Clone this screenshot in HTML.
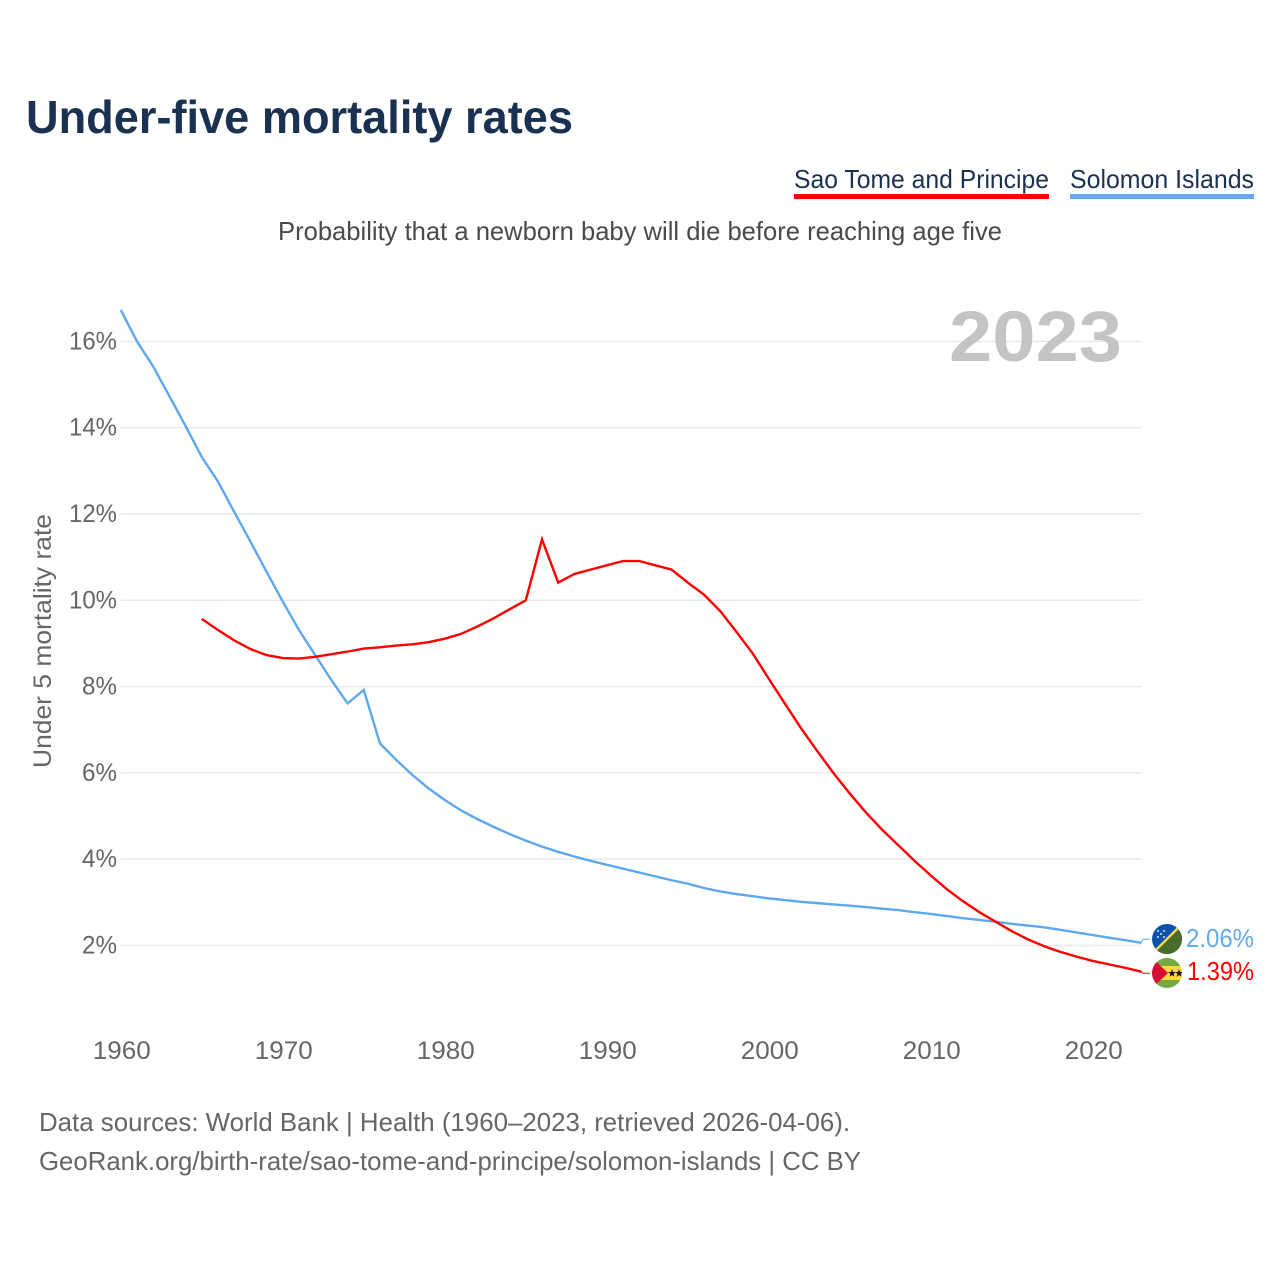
<!DOCTYPE html>
<html lang="en">
<head>
<meta charset="utf-8">
<title>Under-five mortality rates</title>
<style>
html,body{margin:0;padding:0;background:#fff;}
svg{display:block;}
text{font-family:"Liberation Sans",sans-serif;}
</style>
</head>
<body>
<svg id="chart" xmlns="http://www.w3.org/2000/svg" width="1280" height="1280" viewBox="0 0 1280 1280">
  <rect width="1280" height="1280" fill="#fff"/>
  <text x="26" y="133" font-size="46" font-weight="700" fill="#1a3152" textLength="547" lengthAdjust="spacingAndGlyphs">Under-five mortality rates</text>

  <g>
    <text x="794" y="188" font-size="26" fill="#1a3152" textLength="255" lengthAdjust="spacingAndGlyphs">Sao Tome and Principe</text>
    <rect x="794" y="194" width="255" height="5" fill="#ff0000"/>
  </g>
  <g>
    <text x="1070" y="188" font-size="26" fill="#1a3152" textLength="184" lengthAdjust="spacingAndGlyphs">Solomon Islands</text>
    <rect x="1070" y="194" width="184" height="5" fill="#62a9ed"/>
  </g>

  <text x="278" y="240" font-size="26" fill="#4a4a4a" textLength="724" lengthAdjust="spacingAndGlyphs">Probability that a newborn baby will die before reaching age five</text>
  <text transform="translate(51 768) rotate(-90)" font-size="25" fill="#666" textLength="254" lengthAdjust="spacingAndGlyphs">Under 5 mortality rate</text>

  <g id="grid"></g>
  <g id="yticks"></g>
  <g id="xticks"></g>

  <text x="949" y="361" font-size="71" font-weight="700" fill="#c4c4c4" textLength="173" lengthAdjust="spacingAndGlyphs">2023</text>

  <g id="series"></g>

  <defs>
    <clipPath id="clip-flag-a"><circle cx="1167" cy="939" r="15"/></clipPath>
    <clipPath id="clip-flag-b"><circle cx="1167" cy="973" r="15"/></clipPath>
  </defs>
  <g clip-path="url(#clip-flag-a)">
    <rect x="1150" y="922" width="34" height="34" fill="#0b51ad"/>
    <polygon points="1184,922 1184,956 1150,956" fill="#4a6b2a"/>
    <line x1="1152" y1="954" x2="1182" y2="924" stroke="#ecd94a" stroke-width="2.4"/>
    <g fill="#d8e4f4">
      <circle cx="1158" cy="931" r="1"/><circle cx="1164" cy="931" r="1"/><circle cx="1161" cy="934" r="1"/><circle cx="1158" cy="937" r="1"/><circle cx="1164" cy="937" r="1"/>
    </g>
  </g>
  <g clip-path="url(#clip-flag-b)">
    <rect x="1150" y="956" width="34" height="34" fill="#74a840"/>
    <rect x="1150" y="966" width="34" height="14" fill="#fcd83a"/>
    <polygon points="1150,956 1168,973 1150,990" fill="#d80c36"/>
    <polygon points="1172,969 1173,972 1176,972 1173.6,973.8 1174.5,976.8 1172,975 1169.5,976.8 1170.4,973.8 1168,972 1171,972" fill="#111"/>
    <polygon points="1179,969 1180,972 1183,972 1180.6,973.8 1181.5,976.8 1179,975 1176.5,976.8 1177.4,973.8 1175,972 1178,972" fill="#111"/>
  </g>

  <text x="1186" y="947" font-size="26" fill="#62a9ed" textLength="68" lengthAdjust="spacingAndGlyphs">2.06%</text>
  <text x="1187" y="980" font-size="26" fill="#ff0000" textLength="67" lengthAdjust="spacingAndGlyphs">1.39%</text>

  <text x="39" y="1131" font-size="26" fill="#666" textLength="811" lengthAdjust="spacingAndGlyphs">Data sources: World Bank | Health (1960–2023, retrieved 2026-04-06).</text>
  <text x="39" y="1170" font-size="26" fill="#666" textLength="822" lengthAdjust="spacingAndGlyphs">GeoRank.org/birth-rate/sao-tome-and-principe/solomon-islands | CC BY</text>
</svg>
<script>
const solomonStart = 1960;
const solomonValues = [16.73,16.0,15.42,14.73,14.04,13.32,12.75,12.05,11.36,10.66,9.97,9.31,8.73,8.15,7.61,7.92,6.68,6.30,5.95,5.64,5.37,5.13,4.93,4.75,4.58,4.43,4.29,4.17,4.06,3.96,3.87,3.78,3.69,3.60,3.51,3.43,3.33,3.25,3.19,3.14,3.09,3.05,3.01,2.98,2.95,2.92,2.89,2.85,2.82,2.77,2.73,2.68,2.63,2.59,2.55,2.50,2.46,2.42,2.36,2.30,2.24,2.18,2.12,2.06];
const saoTomeStart = 1965;
const saoTomeValues = [9.57,9.31,9.07,8.87,8.73,8.66,8.65,8.69,8.75,8.81,8.88,8.91,8.95,8.98,9.03,9.11,9.22,9.39,9.58,9.79,10.0,11.41,10.41,10.61,10.71,10.81,10.91,10.91,10.81,10.71,10.41,10.13,9.75,9.27,8.77,8.18,7.60,7.03,6.50,5.99,5.52,5.08,4.68,4.32,3.96,3.62,3.30,3.02,2.77,2.55,2.33,2.14,1.98,1.85,1.74,1.64,1.56,1.48,1.39];
const yTicks = [2,4,6,8,10,12,14,16];
const xTicks = [1960,1970,1980,1990,2000,2010,2020];

const NS = 'http://www.w3.org/2000/svg';
function xScale(year){ return 120.8 + (year - 1960) * 16.2; }
function yScale(value){ return 945.4 - (value - 2) * 43.14; }

const grid = document.getElementById('grid');
const yGroup = document.getElementById('yticks');
const xGroup = document.getElementById('xticks');
const seriesGroup = document.getElementById('series');

yTicks.forEach(function(t){
  const line = document.createElementNS(NS, 'line');
  
  
  line.setAttribute('x1', xScale(1960));
  line.setAttribute('x2', xScale(2023));
  line.setAttribute('y1', yScale(t));
  line.setAttribute('y2', yScale(t));
  line.setAttribute('stroke', '#e8e8e8');
  line.setAttribute('stroke-width', '1.4');
  grid.appendChild(line);

  const label = document.createElementNS(NS, 'text');
  
  
  label.setAttribute('x', 117);
  label.setAttribute('y', yScale(t) + 8);
  label.setAttribute('text-anchor', 'end');
  label.setAttribute('font-size', '25');
  label.setAttribute('fill', '#666');
  label.setAttribute('textLength', t >= 10 ? 48 : 35);
  label.setAttribute('lengthAdjust', 'spacingAndGlyphs');
  label.textContent = t + '%';
  yGroup.appendChild(label);
});

xTicks.forEach(function(t){
  const label = document.createElementNS(NS, 'text');
  
  
  label.setAttribute('x', xScale(t) + 1);
  label.setAttribute('y', 1059);
  label.setAttribute('text-anchor', 'middle');
  label.setAttribute('font-size', '25');
  label.setAttribute('fill', '#666');
  label.setAttribute('textLength', 58);
  label.setAttribute('lengthAdjust', 'spacingAndGlyphs');
  label.textContent = t;
  xGroup.appendChild(label);
});

function pointsFor(start, values){
  return values.map(function(v, i){
    return xScale(start + i).toFixed(2) + ',' + yScale(v).toFixed(2);
  });
}

const bluePts = pointsFor(solomonStart, solomonValues);
const blueLine = document.createElementNS(NS, 'polyline');


blueLine.setAttribute('points', bluePts.join(' '));
blueLine.setAttribute('fill', 'none');
blueLine.setAttribute('stroke', '#5ea8ee');
blueLine.setAttribute('stroke-width', '2.4');
seriesGroup.appendChild(blueLine);

const redPts = pointsFor(saoTomeStart, saoTomeValues);
const redLine = document.createElementNS(NS, 'polyline');


redLine.setAttribute('points', redPts.join(' '));
redLine.setAttribute('fill', 'none');
redLine.setAttribute('stroke', '#ff0000');
redLine.setAttribute('stroke-width', '2.4');
seriesGroup.appendChild(redLine);

const blueEnd = yScale(solomonValues[solomonValues.length - 1]);
const blueLeader = document.createElementNS(NS, 'polyline');


blueLeader.setAttribute('points', '1141.4,' + blueEnd + ' 1143,' + (blueEnd - 3.5) + ' 1150,' + (blueEnd - 3.5));
blueLeader.setAttribute('fill', 'none');
blueLeader.setAttribute('stroke', '#5ea8ee');
blueLeader.setAttribute('stroke-width', '1');
seriesGroup.appendChild(blueLeader);

const redEnd = yScale(saoTomeValues[saoTomeValues.length - 1]);
const redLeader = document.createElementNS(NS, 'polyline');


redLeader.setAttribute('points', '1141.4,' + redEnd + ' 1143,' + (redEnd + 1.5) + ' 1150,' + (redEnd + 1.5));
redLeader.setAttribute('fill', 'none');
redLeader.setAttribute('stroke', '#ff0000');
redLeader.setAttribute('stroke-width', '1');
seriesGroup.appendChild(redLeader);
</script>
</body>
</html>
